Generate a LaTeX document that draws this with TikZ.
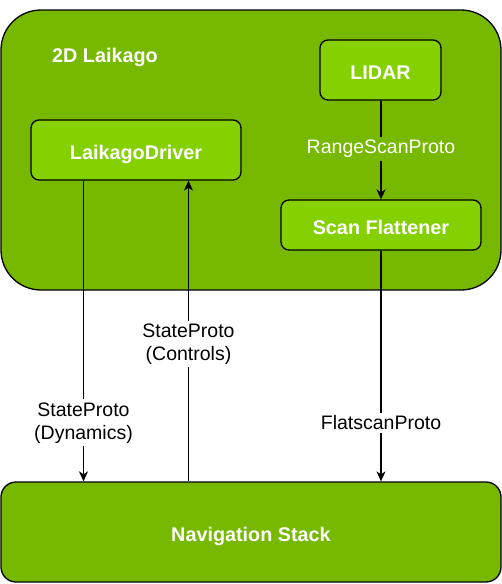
\documentclass[tikz,border=0pt]{standalone}
\usepackage{fontspec}
\setmainfont{Liberation Sans}
\usepackage{tikz}
\usetikzlibrary{arrows.meta}
\definecolor{nvgreen}{HTML}{76B900}
\definecolor{nvlight}{HTML}{84D000}

\begin{document}
\begin{tikzpicture}[x=1pt, y=-1pt, line width=1.3pt,
  boxtext/.style={text=white, font=\fontsize{19.8}{23}\selectfont\bfseries, text height=24pt, text depth=5pt},
  box/.style={draw, rounded corners=8pt, fill=nvlight, boxtext, inner sep=0pt},
  flow/.style={-{Stealth[length=10pt, width=9pt, inset=3pt]}},
  lbl/.style={fill=white, align=center, inner sep=3pt, font=\fontsize{19.5}{23}\selectfont}]
\useasboundingbox (0,0) rectangle (502,584);
% outer frame and the stack below
\node (robot) [draw, fill=nvgreen, rounded corners=40pt, minimum width=500pt, minimum height=280pt] at (251,150) {};
\node (title) [boxtext, inner sep=0pt] at (105,53) {2D Laikago};
\node (nav) [draw, fill=nvgreen, rounded corners=15pt, minimum width=500pt, minimum height=100pt, boxtext, inner sep=0pt] at (251,532) {Navigation Stack};
% inner boxes
\node (lidar) [box, minimum width=121pt, minimum height=60pt] at (380.5,70) {LIDAR};
\node (driver) [box, minimum width=210pt, minimum height=60pt] at (136,150) {LaikagoDriver};
\node (flat) [box, minimum width=200pt, minimum height=50pt] at (381,225) {Scan Flattener};
% connectors
\coordinate (dyn) at ([xshift=-52.5pt]driver.south);
\coordinate (ctl) at ([xshift=52.5pt]driver.south);
\draw [flow] (dyn) -- node[lbl, pos=0.805] {StateProto\\(Dynamics)} (nav.north -| dyn);
\draw [flow] (nav.north -| ctl) -- node[lbl, pos=0.464, yshift=-2pt] {StateProto\\(Controls)} (ctl);
\draw [flow] (lidar.south -| flat.north) -- node[lbl, fill=nvgreen, text=white, pos=0.46, yshift=-3pt] {RangeScanProto} (flat.north);
\draw [flow] (flat.south) -- node[lbl, pos=0.746] {FlatscanProto} (nav.north -| flat.south);
\end{tikzpicture}
\end{document}
